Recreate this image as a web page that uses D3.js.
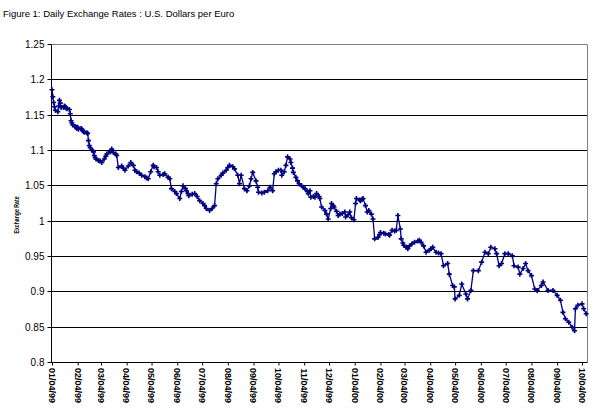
<!DOCTYPE html>
<html><head><meta charset="utf-8">
<script src="https://cdn.jsdelivr.net/npm/d3@7/dist/d3.min.js"></script>
<style>body{margin:0;background:#fff;}svg{display:block;}</style>
</head><body>
<svg id="chart" width="603" height="413"></svg>
<script>
const chartTitle = "Figure 1: Daily Exchange Rates : U.S. Dollars per Euro";
const yAxisTitle = "Exchange Rate";
const yTickValues = [0.8, 0.85, 0.9, 0.95, 1, 1.05, 1.1, 1.15, 1.2, 1.25];
const xTickDates = ["1999-01-04","1999-02-04","1999-03-04","1999-04-04","1999-05-04","1999-06-04",
  "1999-07-04","1999-08-04","1999-09-04","1999-10-04","1999-11-04","1999-12-04",
  "2000-01-04","2000-02-04","2000-03-04","2000-04-04","2000-05-04","2000-06-04",
  "2000-07-04","2000-08-04","2000-09-04","2000-10-04"];
const xDomain = ["1999-01-04", "2000-10-10"];

const dates = [
 "1999-01-04","1999-01-05","1999-01-06","1999-01-07","1999-01-08","1999-01-11","1999-01-12","1999-01-13","1999-01-14","1999-01-15",
 "1999-01-18","1999-01-19","1999-01-20","1999-01-21","1999-01-22","1999-01-25","1999-01-26","1999-01-27","1999-01-28","1999-01-29",
 "1999-02-01","1999-02-02","1999-02-03","1999-02-04","1999-02-05","1999-02-08","1999-02-09","1999-02-10","1999-02-11","1999-02-12",
 "1999-02-15","1999-02-16","1999-02-17","1999-02-18","1999-02-19","1999-02-22","1999-02-23","1999-02-24","1999-02-25","1999-02-26",
 "1999-03-01","1999-03-03","1999-03-05","1999-03-08","1999-03-10","1999-03-11","1999-03-15","1999-03-17","1999-03-19","1999-03-22",
 "1999-03-23","1999-03-25","1999-03-29","1999-03-31","1999-04-02","1999-04-06","1999-04-09","1999-04-12","1999-04-14","1999-04-16",
 "1999-04-19","1999-04-22","1999-04-26","1999-04-28","1999-04-30","1999-05-03","1999-05-06","1999-05-07","1999-05-10","1999-05-12",
 "1999-05-14","1999-05-18","1999-05-20","1999-05-24","1999-05-26","1999-05-28","1999-06-01","1999-06-03","1999-06-07","1999-06-09",
 "1999-06-11","1999-06-14","1999-06-15","1999-06-17","1999-06-18","1999-06-22","1999-06-25","1999-06-28","1999-07-01","1999-07-05",
 "1999-07-07","1999-07-09","1999-07-13","1999-07-16","1999-07-19","1999-07-21","1999-07-23","1999-07-27","1999-07-29","1999-08-02",
 "1999-08-04","1999-08-06","1999-08-10","1999-08-12","1999-08-16","1999-08-18","1999-08-20","1999-08-24","1999-08-27","1999-08-30",
 "1999-09-01","1999-09-03","1999-09-07","1999-09-09","1999-09-10","1999-09-14","1999-09-17","1999-09-21","1999-09-24","1999-09-27",
 "1999-09-29","1999-10-01","1999-10-04","1999-10-07","1999-10-08","1999-10-11","1999-10-13","1999-10-15","1999-10-18","1999-10-19",
 "1999-10-21","1999-10-22","1999-10-25","1999-10-27","1999-10-29","1999-11-01","1999-11-03","1999-11-05","1999-11-08","1999-11-09",
 "1999-11-11","1999-11-12","1999-11-15","1999-11-17","1999-11-19","1999-11-22","1999-11-23","1999-11-25","1999-11-29","1999-12-01",
 "1999-12-03","1999-12-06","1999-12-07","1999-12-09","1999-12-10","1999-12-13","1999-12-15","1999-12-17","1999-12-20","1999-12-23",
 "1999-12-24","1999-12-27","1999-12-29","1999-12-31","2000-01-03","2000-01-05","2000-01-06","2000-01-10","2000-01-11","2000-01-13",
 "2000-01-14","2000-01-17","2000-01-19","2000-01-21","2000-01-24","2000-01-26","2000-01-28","2000-02-01","2000-02-03","2000-02-04",
 "2000-02-08","2000-02-10","2000-02-14","2000-02-15","2000-02-18","2000-02-21","2000-02-23","2000-02-25","2000-02-28","2000-02-29",
 "2000-03-02","2000-03-03","2000-03-06","2000-03-08","2000-03-10","2000-03-13","2000-03-16","2000-03-20","2000-03-22","2000-03-24",
 "2000-03-27","2000-03-30","2000-04-03","2000-04-05","2000-04-07","2000-04-11","2000-04-14","2000-04-17","2000-04-20","2000-04-25",
 "2000-04-27","2000-05-01","2000-05-03","2000-05-04","2000-05-09","2000-05-12","2000-05-17","2000-05-19","2000-05-23","2000-05-26",
 "2000-06-01","2000-06-05","2000-06-09","2000-06-13","2000-06-16","2000-06-21","2000-06-23","2000-06-26","2000-06-29","2000-07-03",
 "2000-07-07","2000-07-12","2000-07-14","2000-07-19","2000-07-21","2000-07-25","2000-07-28","2000-07-31","2000-08-04","2000-08-08",
 "2000-08-11","2000-08-16","2000-08-18","2000-08-24","2000-08-30","2000-09-04","2000-09-08","2000-09-11","2000-09-14","2000-09-18",
 "2000-09-22","2000-09-25","2000-09-26","2000-09-29","2000-10-04","2000-10-06","2000-10-09"
];
const rates = [
 1.186,1.176,1.168,1.162,1.157,1.155,1.163,1.171,1.167,1.161,
 1.161,1.163,1.162,1.160,1.159,1.158,1.152,1.142,1.139,1.136,
 1.134,1.133,1.131,1.133,1.130,1.131,1.130,1.128,1.127,1.126,
 1.125,1.124,1.114,1.107,1.104,1.100,1.098,1.093,1.090,1.088,
 1.086,1.085,1.083,1.088,1.092,1.095,1.098,1.102,1.097,1.095,
 1.093,1.076,1.078,1.075,1.072,1.078,1.083,1.079,1.072,1.070,
 1.068,1.065,1.063,1.061,1.060,1.070,1.079,1.077,1.076,1.070,
 1.065,1.066,1.067,1.062,1.060,1.046,1.042,1.039,1.032,1.042,
 1.050,1.046,1.043,1.039,1.036,1.038,1.039,1.035,1.029,1.025,
 1.022,1.018,1.015,1.018,1.022,1.053,1.060,1.065,1.068,1.072,
 1.076,1.079,1.077,1.074,1.065,1.053,1.065,1.046,1.043,1.050,
 1.060,1.069,1.057,1.048,1.041,1.040,1.041,1.043,1.048,1.043,
 1.067,1.070,1.072,1.072,1.065,1.070,1.079,1.091,1.088,1.083,
 1.075,1.069,1.062,1.057,1.053,1.050,1.048,1.046,1.042,1.039,
 1.043,1.034,1.035,1.034,1.039,1.035,1.032,1.020,1.015,1.010,
 1.003,1.018,1.025,1.022,1.020,1.014,1.008,1.010,1.011,1.013,
 1.006,1.009,1.013,1.005,1.002,1.025,1.032,1.030,1.029,1.031,
 1.032,1.022,1.013,1.015,1.010,1.003,0.975,0.977,0.981,0.984,
 0.983,0.982,0.981,0.980,0.987,0.986,0.987,1.008,0.989,0.975,
 0.969,0.966,0.963,0.961,0.965,0.968,0.970,0.972,0.973,0.970,
 0.965,0.956,0.959,0.961,0.963,0.956,0.955,0.954,0.937,0.940,
 0.925,0.909,0.907,0.890,0.895,0.911,0.897,0.890,0.902,0.930,
 0.930,0.942,0.956,0.954,0.963,0.961,0.954,0.937,0.940,0.954,
 0.954,0.951,0.937,0.935,0.925,0.933,0.940,0.930,0.923,0.904,
 0.902,0.909,0.914,0.902,0.902,0.895,0.888,0.871,0.862,0.857,
 0.850,0.845,0.876,0.881,0.883,0.876,0.869
];

const W = 603, H = 413;
const plot = {left: 51.5, right: 587.5, top: 44.5, bottom: 362.5};
const navy = "#000080";
const parse = d3.timeParse("%Y-%m-%d");
const data = dates.map((d, i) => ({date: parse(d), value: rates[i]}));

const svg = d3.select("#chart");
svg.append("rect").attr("width", W).attr("height", H).attr("fill", "#fff");

const x = d3.scaleTime().domain(xDomain.map(parse)).range([plot.left + 0.5, plot.right - 0.5]);
const y = d3.scaleLinear().domain([0.8, 1.25]).range([plot.bottom, plot.top]);

// title
svg.append("text").attr("x", 3).attr("y", 17)
  .attr("font-family", "Liberation Sans, Arial, sans-serif").attr("font-size", 9.5)
  .attr("fill", "#000").text(chartTitle);

// gridlines
svg.append("g").selectAll("line").data(yTickValues.filter(v => v > 0.8 && v < 1.25)).join("line")
  .attr("x1", plot.left).attr("x2", plot.right)
  .attr("y1", d => Math.round(y(d) - 0.5) + 0.5).attr("y2", d => Math.round(y(d) - 0.5) + 0.5)
  .attr("stroke", "#000").attr("stroke-width", 1);

// plot border (gray) top and right
svg.append("path")
  .attr("d", `M${plot.left},${plot.top}H${plot.right}V${plot.bottom}`)
  .attr("fill", "none").attr("stroke", "#808080").attr("stroke-width", 1);

// y axis
const yAxis = d3.axisLeft(y).tickValues(yTickValues).tickSize(4).tickPadding(3)
  .tickFormat(d => String(+d.toFixed(2)));
const gy = svg.append("g").attr("transform", `translate(${plot.left},0)`).call(yAxis);
gy.select(".domain").attr("stroke", "#000").attr("d", `M-0,${plot.top}V${plot.bottom}`);
gy.selectAll(".tick line").attr("stroke", "#000");
gy.selectAll(".tick").attr("transform", d => `translate(0,${Math.round(y(d) - 0.5) + 0.5})`);
gy.selectAll(".tick text").attr("font-family", "Liberation Sans, Arial, sans-serif")
  .attr("font-size", 10).attr("fill", "#000");

// x axis
const xAxis = d3.axisBottom(x).tickValues(xTickDates.map(parse)).tickSize(3).tickFormat("");
const gx = svg.append("g").attr("transform", `translate(0,${plot.bottom})`).call(xAxis);
gx.select(".domain").attr("stroke", "#000").attr("d", `M${plot.left},0H${plot.right}`);
gx.selectAll(".tick line").attr("stroke", "#000");

const fmt = d3.timeFormat("%m/%d/%y");
svg.append("g").selectAll("text").data(xTickDates.map(parse)).join("text")
  .attr("transform", d => `translate(${x(d)},403) rotate(90)`)
  .attr("text-anchor", "end").attr("dy", "0.35em")
  .attr("font-family", "Liberation Sans, Arial, sans-serif").attr("font-size", 9)
  .attr("font-weight", "bold").attr("fill", "#000")
  .text(d => fmt(d));

// y axis title
svg.append("text").attr("transform", "translate(16.5,215) rotate(-90)")
  .attr("text-anchor", "middle").attr("dy", "0.35em")
  .attr("font-family", "Liberation Sans, Arial, sans-serif").attr("font-size", 7)
  .attr("font-weight", "bold").attr("textLength", 37).attr("lengthAdjust", "spacingAndGlyphs")
  .text(yAxisTitle);

// series line
const line = d3.line().x(d => x(d.date)).y(d => y(d.value));
svg.append("path").datum(data).attr("d", line)
  .attr("fill", "none").attr("stroke", navy).attr("stroke-width", 1.3);

// plus markers
svg.append("g").selectAll("path").data(data).join("path")
  .attr("transform", d => `translate(${x(d.date)},${y(d.value)})`)
  .attr("d", "M-2.5,0H2.5M0,-2.5V2.5")
  .attr("stroke", navy).attr("stroke-width", 1.6).attr("fill", "none");
</script>
</body></html>
